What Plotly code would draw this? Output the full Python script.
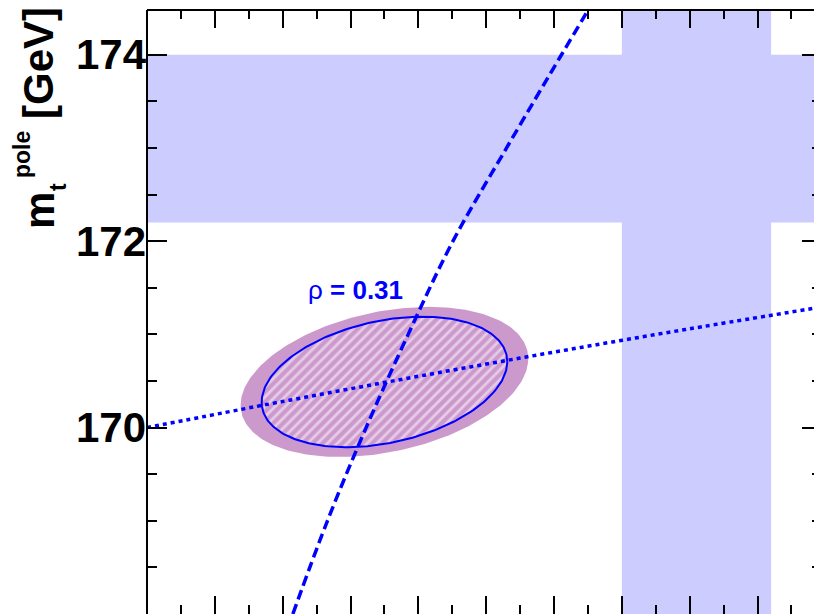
import numpy as np
import plotly.graph_objects as go

# world-average bands
alphas_avg = 0.1181
alphas_err = 0.0011
mt_avg = 173.1
mt_err = 0.9

# combined fit result
fit_alphas = 0.11350
fit_mt = 170.49
rho = 0.31
inner_sigma = [0.00181, 0.70]   # (alpha_s, m_t)
outer_sigma = [0.00212, 0.805]

# dashed constraint curve
dashed_mt = [168.0, 169.0, 170.0, 171.0, 172.0, 173.0, 174.0, 174.5]
dashed_alphas = [0.11215, 0.11266, 0.11323, 0.11385, 0.11451, 0.11530, 0.11611, 0.11652]

# dotted constraint curve
dotted_alphas = [0.110, 0.112, 0.114, 0.116, 0.118, 0.120]
dotted_mt = [170.00, 170.28, 170.55, 170.81, 171.06, 171.30]

x_range = [0.110, 0.11995]
y_range = [168.0, 174.48]

BAND = '#CCCCFF'
PURPLE = '#CC99CC'
BLUE = '#0000FF'
FONT = 'Liberation Sans'

# page body has an 8px margin; plot area should sit at (147, 10) in the window
PAGE_OFF = 8
L, T, W, H = 147, 10, 675, 604


def ellipse(cx, cy, sx, sy, r, n=240):
    t = np.linspace(0, 2 * np.pi, n)
    x = cx + sx * np.cos(t)
    y = cy + sy * (r * np.cos(t) + np.sqrt(1 - r * r) * np.sin(t))
    return x, y


fig = go.Figure()

ox, oy = ellipse(fit_alphas, fit_mt, outer_sigma[0], outer_sigma[1], rho)
fig.add_trace(go.Scatter(x=ox, y=oy, mode='lines', fill='toself', fillcolor=PURPLE,
                         line=dict(width=0), hoverinfo='skip'))

ix, iy = ellipse(fit_alphas, fit_mt, inner_sigma[0], inner_sigma[1], rho)
fig.add_trace(go.Scatter(x=ix, y=iy, mode='lines', fill='toself',
                         fillpattern=dict(shape='/', fgcolor='white', bgcolor=PURPLE, size=7, solidity=0.4),
                         line=dict(color=BLUE, width=2), hoverinfo='skip'))

fig.add_trace(go.Scatter(x=dashed_alphas, y=dashed_mt, mode='lines', line_shape='spline',
                         line=dict(color=BLUE, width=3.5, dash='10px,5px')))
fig.add_trace(go.Scatter(x=dotted_alphas, y=dotted_mt, mode='lines', line_shape='spline',
                         line=dict(color=BLUE, width=3.5, dash='4px,4px')))

# bands
fig.add_shape(type='rect', xref='x', yref='paper', x0=alphas_avg - alphas_err, x1=alphas_avg + alphas_err,
              y0=0, y1=1, fillcolor=BAND, line_width=0, layer='below')
fig.add_shape(type='rect', xref='paper', yref='y', x0=0, x1=1, y0=mt_avg - mt_err, y1=mt_avg + mt_err,
              fillcolor=BAND, line_width=0, layer='below')

# frame lines (left and top; right/bottom fall outside the crop)
fig.add_shape(type='line', xref='paper', yref='paper', x0=0, x1=0, y0=0, y1=1, line=dict(color='black', width=2))
fig.add_shape(type='line', xref='paper', yref='paper', x0=0, x1=1, y0=1, y1=1, line=dict(color='black', width=2))

fig.add_annotation(x=0.11308, y=171.48, xref='x', yref='y', text='ρ <b>= 0.31</b>', showarrow=False,
                   font=dict(family=FONT, size=26, color=BLUE))


# y-axis title built from pieces so that sub- and superscript stack
def px(xp, yp):
    return (xp - L) / W, (T + H - yp) / H


for text, (cx, cy), size in [('m', (39, 211), 42), ('t', (58, 187), 23),
                             ('pole', (22, 155), 23), ('[GeV]', (39, 63), 42)]:
    xx, yy = px(cx, cy)
    fig.add_annotation(x=xx, y=yy, xref='paper', yref='paper', text=text, textangle=-90, showarrow=False,
                       xanchor='center', yanchor='middle',
                       font=dict(family=FONT, size=size, color='black', weight='bold'))

tick_style = dict(ticks='inside', tickwidth=2, tickcolor='black', mirror='ticks', showline=False,
                  showgrid=False, zeroline=False)
fig.update_xaxes(range=x_range, tick0=0.110, dtick=0.001, ticklen=18, showticklabels=False,
                 minor=dict(ticks='inside', dtick=0.0005, ticklen=9, tickwidth=2, tickcolor='black'),
                 **tick_style)
fig.update_yaxes(range=y_range, tick0=170, dtick=2, ticklen=20,
                 tickfont=dict(family=FONT, size=42, color='black', weight='bold'),
                 minor=dict(ticks='inside', dtick=0.5, ticklen=10, tickwidth=2, tickcolor='black'),
                 **tick_style)

fig.update_layout(width=L - PAGE_OFF + W, height=T - PAGE_OFF + H,
                  margin=dict(l=L - PAGE_OFF, r=0, t=T - PAGE_OFF, b=0),
                  plot_bgcolor='white', paper_bgcolor='white', showlegend=False)

fig.write_html('out.html')
